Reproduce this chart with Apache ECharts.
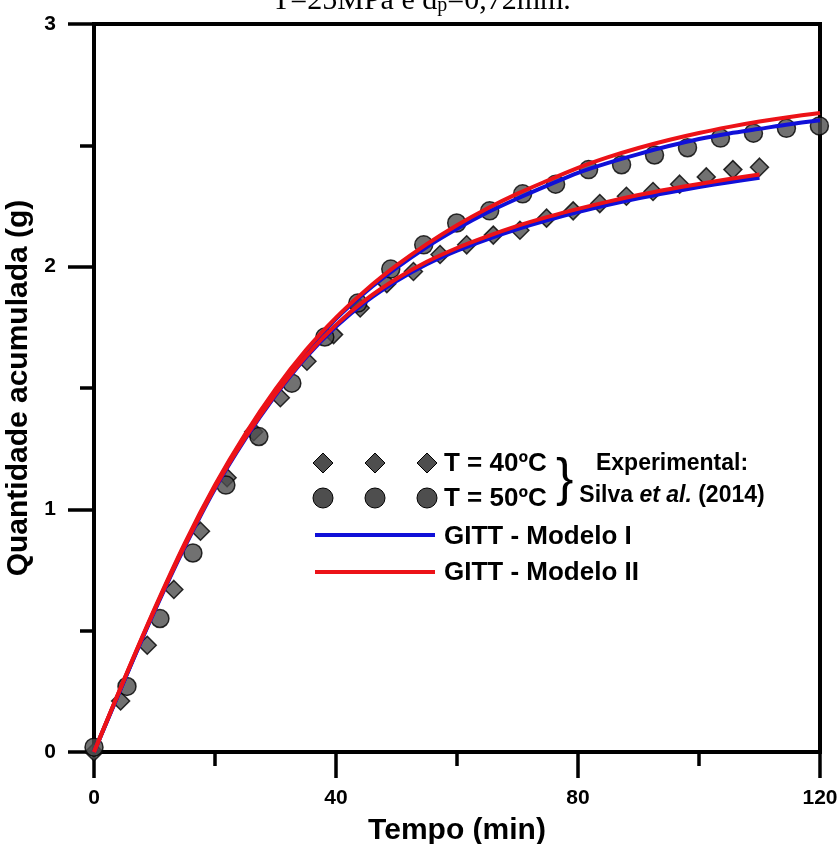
<!DOCTYPE html>
<html>
<head>
<meta charset="utf-8">
<style>
	html, body { margin: 0; padding: 0; background: #fff; }
	#QuantidadeAcumulada { width: 838px; height: 844px; }
</style>
<script src="https://cdn.jsdelivr.net/npm/echarts@6/dist/echarts.min.js"></script>
</head>
<body>
<div id="QuantidadeAcumulada"></div>
<script>
	const fonte = 'Liberation Sans, Arial, sans-serif'
	const fonteEstreita = 'Liberation Sans Narrow, Arial Narrow, Liberation Sans, sans-serif'
	const azul = '#1010d8'
	const vermelho = '#ec1218'
	const cinza = '#4e4e4e'

	// pontos experimentais (Silva et al., 2014)
	const tempo40 = [0, 4.4, 8.8, 13.2, 17.6, 22, 26.4, 30.8, 35.2, 39.6, 44, 48.4, 52.8, 57.2, 61.6, 66, 70.4, 74.8, 79.2, 83.6, 88, 92.4, 96.8, 101.2, 105.6, 110]
	const exp40 = [0.0, 0.21, 0.44, 0.67, 0.91, 1.13, 1.32, 1.46, 1.61, 1.72, 1.83, 1.93, 1.98, 2.05, 2.09, 2.13, 2.15, 2.2, 2.23, 2.26, 2.29, 2.31, 2.34, 2.37, 2.4, 2.41]
	const tempo50 = [0, 5.45, 10.9, 16.35, 21.8, 27.25, 32.7, 38.15, 43.6, 49.05, 54.5, 59.95, 65.4, 70.85, 76.3, 81.75, 87.2, 92.65, 98.1, 103.55, 109, 114.45, 119.9]
	const exp50 = [0.02, 0.27, 0.55, 0.82, 1.1, 1.3, 1.52, 1.71, 1.85, 1.99, 2.09, 2.18, 2.23, 2.3, 2.34, 2.4, 2.42, 2.46, 2.49, 2.53, 2.55, 2.57, 2.58]

	// curvas GITT (lidas a cada 5 min)
	const tempoModelo = [0, 5, 10, 15, 20, 25, 30, 35, 40, 45, 50, 55, 60, 65, 70, 75, 80, 85, 90, 95, 100, 105, 110, 115, 120]
	const modeloI_40 = [0, 0.295, 0.58, 0.845, 1.085, 1.29, 1.47, 1.625, 1.753, 1.857, 1.941, 2.01, 2.066, 2.113, 2.155, 2.192, 2.225, 2.255, 2.282, 2.306, 2.328, 2.348, 2.366]
	const modeloII_40 = [0, 0.3, 0.585, 0.85, 1.09, 1.295, 1.475, 1.63, 1.76, 1.865, 1.95, 2.02, 2.077, 2.125, 2.168, 2.205, 2.238, 2.268, 2.295, 2.319, 2.341, 2.361, 2.38]
	const modeloI_50 = [0, 0.295, 0.585, 0.855, 1.095, 1.305, 1.49, 1.65, 1.785, 1.898, 1.995, 2.081, 2.156, 2.223, 2.281, 2.335, 2.387, 2.428, 2.464, 2.497, 2.526, 2.549, 2.568, 2.587, 2.603]
	const modeloII_50 = [0, 0.3, 0.59, 0.86, 1.1, 1.31, 1.495, 1.655, 1.79, 1.905, 2.005, 2.093, 2.171, 2.24, 2.301, 2.355, 2.407, 2.451, 2.489, 2.522, 2.551, 2.576, 2.598, 2.617, 2.633]

	const pares = (xs, ys) => ys.map((y, i) => [xs[i], y])

	const chart = echarts.init(document.getElementById('QuantidadeAcumulada'), null, { renderer: 'canvas' })

	const curva = (nome, cor, valores, z) => ({
		name: nome,
		type: 'line',
		data: pares(tempoModelo, valores),
		showSymbol: false,
		smooth: 0.3,
		lineStyle: { color: cor, width: 4 },
		itemStyle: { color: cor },
		z: z,
		animation: false
	})

	const pontos = (nome, simbolo, xs, ys) => ({
		name: nome,
		type: 'scatter',
		data: pares(xs, ys),
		symbol: simbolo,
		symbolSize: 18,
		itemStyle: { color: cinza, borderColor: '#000', borderWidth: 1.5 },
		z: 2,
		animation: false
	})

	const textoLegenda = (x, y, texto, tamanho) => ({
		type: 'text',
		x: x,
		y: y,
		style: {
			text: texto,
			font: 'bold ' + tamanho + 'px ' + fonte,
			fill: '#000',
			verticalAlign: 'middle'
		}
	})

	const option = {
		backgroundColor: '#fff',
		animation: false,
		grid: {
			left: 94,
			right: 18,
			top: 24,
			bottom: 92,
			outerBoundsMode: 'none',
			containLabel: false,
			show: true,
			borderColor: '#000',
			borderWidth: 4,
			backgroundColor: 'transparent'
		},
		xAxis: {
			type: 'value',
			min: 0,
			max: 120,
			interval: 40,
			name: 'Tempo (min)',
			nameLocation: 'middle',
			nameGap: 64,
			nameTextStyle: { fontFamily: fonte, fontWeight: 'bold', fontSize: 30, color: '#000' },
			axisLine: { show: true, lineStyle: { color: '#000', width: 4 } },
			axisTick: { show: true, inside: false, length: 26, lineStyle: { color: '#000', width: 3.5 } },
			minorTick: { show: true, splitNumber: 2, length: 14, lineStyle: { color: '#000', width: 3.5 } },
			axisLabel: { margin: 36, fontFamily: fonteEstreita, fontWeight: 'bold', fontSize: 21, color: '#000' },
			splitLine: { show: false }
		},
		yAxis: {
			type: 'value',
			min: 0,
			max: 3,
			interval: 1,
			name: 'Quantidade acumulada (g)',
			nameLocation: 'middle',
			nameGap: 54,
			nameTextStyle: { fontFamily: fonte, fontWeight: 'bold', fontSize: 30, color: '#000' },
			axisLine: { show: true, lineStyle: { color: '#000', width: 4 } },
			axisTick: { show: true, inside: false, length: 26, lineStyle: { color: '#000', width: 3.5 } },
			minorTick: { show: true, splitNumber: 2, length: 14, lineStyle: { color: '#000', width: 3.5 } },
			axisLabel: { margin: 38, fontFamily: fonteEstreita, fontWeight: 'bold', fontSize: 21, color: '#000' },
			splitLine: { show: false }
		},
		graphic: [
			{
				type: 'text',
				x: 272,
				y: 1,
				style: {
					text: '{a|T=25MPa e d}{s|p}{a|=0,72mm.}',
					verticalAlign: 'middle',
					rich: {
						a: { fontFamily: 'Liberation Serif, Times New Roman, serif', fontSize: 30, color: '#000', lineHeight: 30 },
						s: { fontFamily: 'Liberation Serif, Times New Roman, serif', fontSize: 20, color: '#000', lineHeight: 30, verticalAlign: 'bottom', padding: [10, 0, 0, 0] }
					}
				}
			},
			// legenda: simbolos experimentais
			{ type: 'polygon', shape: { points: [[323, 453], [333, 463], [323, 473], [313, 463]] }, style: { fill: cinza, stroke: '#000', lineWidth: 1 } },
			{ type: 'polygon', shape: { points: [[375, 453], [385, 463], [375, 473], [365, 463]] }, style: { fill: cinza, stroke: '#000', lineWidth: 1 } },
			{ type: 'polygon', shape: { points: [[427, 453], [437, 463], [427, 473], [417, 463]] }, style: { fill: cinza, stroke: '#000', lineWidth: 1 } },
			{ type: 'circle', shape: { cx: 323, cy: 498, r: 10 }, style: { fill: cinza, stroke: '#000', lineWidth: 1 } },
			{ type: 'circle', shape: { cx: 375, cy: 498, r: 10 }, style: { fill: cinza, stroke: '#000', lineWidth: 1 } },
			{ type: 'circle', shape: { cx: 427, cy: 498, r: 10 }, style: { fill: cinza, stroke: '#000', lineWidth: 1 } },
			textoLegenda(444, 464, 'T = 40ºC', 26),
			textoLegenda(444, 499, 'T = 50ºC', 26),
			{
				type: 'text',
				x: 556,
				y: 481,
				style: { text: '}', font: '52px ' + fonte, fill: '#000', verticalAlign: 'middle' }
			},
			{
				type: 'text',
				x: 672,
				y: 464,
				style: { text: 'Experimental:', font: 'bold 23px ' + fonte, fill: '#000', align: 'center', verticalAlign: 'middle' }
			},
			{
				type: 'text',
				x: 672,
				y: 496,
				style: {
					text: '{n|Silva }{i|et al.}{n| (2014)}',
					align: 'center',
					verticalAlign: 'middle',
					rich: {
						n: { fontFamily: fonte, fontWeight: 'bold', fontSize: 23, color: '#000' },
						i: { fontFamily: fonte, fontWeight: 'bold', fontStyle: 'italic', fontSize: 23, color: '#000' }
					}
				}
			},
			// legenda: curvas
			{ type: 'line', shape: { x1: 315, y1: 535, x2: 435, y2: 535 }, style: { stroke: azul, lineWidth: 4 } },
			{ type: 'line', shape: { x1: 315, y1: 572, x2: 435, y2: 572 }, style: { stroke: vermelho, lineWidth: 4 } },
			textoLegenda(444, 537, 'GITT - Modelo I', 26),
			textoLegenda(444, 573, 'GITT - Modelo II', 26)
		],
		series: [
			pontos('T = 40ºC', 'diamond', tempo40, exp40),
			pontos('T = 50ºC', 'circle', tempo50, exp50),
			curva('GITT - Modelo I (40ºC)', azul, modeloI_40, 3),
			curva('GITT - Modelo I (50ºC)', azul, modeloI_50, 3),
			curva('GITT - Modelo II (40ºC)', vermelho, modeloII_40, 4),
			curva('GITT - Modelo II (50ºC)', vermelho, modeloII_50, 4)
		]
	}

	chart.setOption(option)
	window.onresize = () => {
		chart.resize()
	}
</script>
</body>
</html>
